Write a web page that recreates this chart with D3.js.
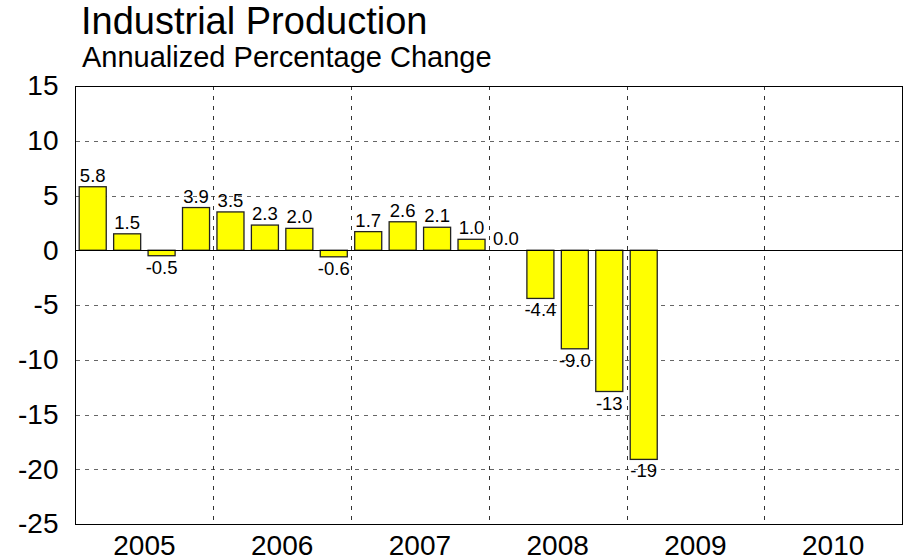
<!DOCTYPE html>
<html>
<head>
<meta charset="utf-8">
<script src="https://cdn.jsdelivr.net/npm/d3@7"></script>
<style>
  html, body { margin: 0; padding: 0; background: #fff; }
  svg { display: block; font-family: "Liberation Sans", Arial, Helvetica, sans-serif; }
</style>
</head>
<body>
<svg id="chart" width="907" height="560"></svg>
<script>
// ---- data ----
const years = ["2005", "2006", "2007", "2008", "2009", "2010"];
const quartersPerYear = 4;
const values = [
  5.8, 1.5, -0.5, 3.9,
  3.5, 2.3, 2.0, -0.6,
  1.7, 2.6, 2.1, 1.0,
  0.0, -4.4, -9.0, -12.9,
  -19.1, null, null, null,
  null, null, null, null
];
const yTicks = [-25, -20, -15, -10, -5, 0, 5, 10, 15];
const titleText = "Industrial Production";
const subtitleText = "Annualized Percentage Change";

// ---- layout ----
const W = 907, H = 560;
const margin = { left: 75.5, right: 5, top: 86, bottom: 36 };
const svg = d3.select("#chart");
const plotW = W - margin.left - margin.right;
const plotH = H - margin.top - margin.bottom;

const loc = d3.formatLocale({ decimal: ".", thousands: ",", grouping: [3], currency: ["$", ""], minus: "-" });
const f1 = loc.format(".1f"), f0 = loc.format(".0f");
const fmtLabel = v => Math.abs(v) >= 10 ? f0(v) : f1(v);
const fmtTick = loc.format("d");

const nQ = years.length * quartersPerYear;
const x = d3.scaleBand().domain(d3.range(nQ)).range([margin.left, margin.left + plotW]).paddingInner(0.215).paddingOuter(0.1075);
const xYear = d3.scaleBand().domain(years).range([margin.left, margin.left + plotW]).padding(0);
const y = d3.scaleLinear().domain([-25, 15]).range([margin.top + plotH, margin.top]);

// horizontal grid (dashed)
const gy = svg.append("g").attr("transform", `translate(${margin.left},0)`)
  .call(d3.axisLeft(y).tickValues(yTicks).tickSize(-plotW).tickFormat(""));
gy.select(".domain").remove();
gy.selectAll(".tick line")
  .attr("stroke", d => (d === 0 || d === 15 || d === -25) ? "none" : "#666")
  .attr("stroke-dasharray", "4,5")
  .attr("shape-rendering", "crispEdges");

// vertical year separators (dashed)
svg.append("g").selectAll("line")
  .data(years.slice(1))
  .join("line")
  .attr("x1", d => Math.round(xYear(d)) + 0.5)
  .attr("x2", d => Math.round(xYear(d)) + 0.5)
  .attr("y1", margin.top)
  .attr("y2", margin.top + plotH)
  .attr("stroke", "#333")
  .attr("stroke-dasharray", "4,6")
  .attr("shape-rendering", "crispEdges");

// bars
const barData = values.map((v, i) => ({ i, v })).filter(d => d.v !== null);
svg.append("g").selectAll("rect")
  .data(barData)
  .join("rect")
  .attr("x", d => x(d.i))
  .attr("width", x.bandwidth())
  .attr("y", d => y(Math.max(0, d.v)))
  .attr("height", d => Math.abs(y(d.v) - y(0)))
  .attr("fill", "#ffff00")
  .attr("stroke", "#222")
  .attr("stroke-width", 1.3);

// zero line
svg.append("line")
  .attr("x1", margin.left).attr("x2", margin.left + plotW)
  .attr("y1", Math.round(y(0)) + 0.5).attr("y2", Math.round(y(0)) + 0.5)
  .attr("stroke", "#000").attr("stroke-width", 1)
  .attr("shape-rendering", "crispEdges");

// frame
svg.append("rect")
  .attr("x", margin.left).attr("y", margin.top)
  .attr("width", plotW).attr("height", plotH)
  .attr("fill", "none").attr("stroke", "#000").attr("stroke-width", 1)
  .attr("shape-rendering", "crispEdges");

// value labels
svg.append("g").selectAll("text")
  .data(barData)
  .join("text")
  .attr("x", d => x(d.i) + x.bandwidth() / 2)
  .attr("y", d => d.v >= 0 ? y(d.v) - 5 : y(d.v) + 18)
  .attr("text-anchor", "middle")
  .attr("font-size", 18.5)
  .attr("fill", "#000")
  .text(d => fmtLabel(d.v));

// y tick labels
const yAxis = svg.append("g").attr("transform", `translate(${margin.left},0)`)
  .call(d3.axisLeft(y).tickValues(yTicks).tickSize(0).tickPadding(17).tickFormat(fmtTick));
yAxis.select(".domain").remove();
yAxis.selectAll("text")
  .attr("font-size", 28)
  .attr("font-family", "Liberation Sans, Arial, sans-serif")
  .attr("fill", "#000");

// x year labels
const xAxis = svg.append("g").attr("transform", `translate(0,${margin.top + plotH})`)
  .call(d3.axisBottom(xYear).tickSize(0).tickPadding(11));
xAxis.select(".domain").remove();
xAxis.selectAll("text")
  .attr("font-size", 28)
  .attr("font-family", "Liberation Sans, Arial, sans-serif")
  .attr("fill", "#000");

// titles
svg.append("text").attr("x", 81).attr("y", 34)
  .attr("font-size", 38).attr("fill", "#000").text(titleText);
svg.append("text").attr("x", 82).attr("y", 67)
  .attr("font-size", 29).attr("fill", "#000").text(subtitleText);
</script>
</body>
</html>
